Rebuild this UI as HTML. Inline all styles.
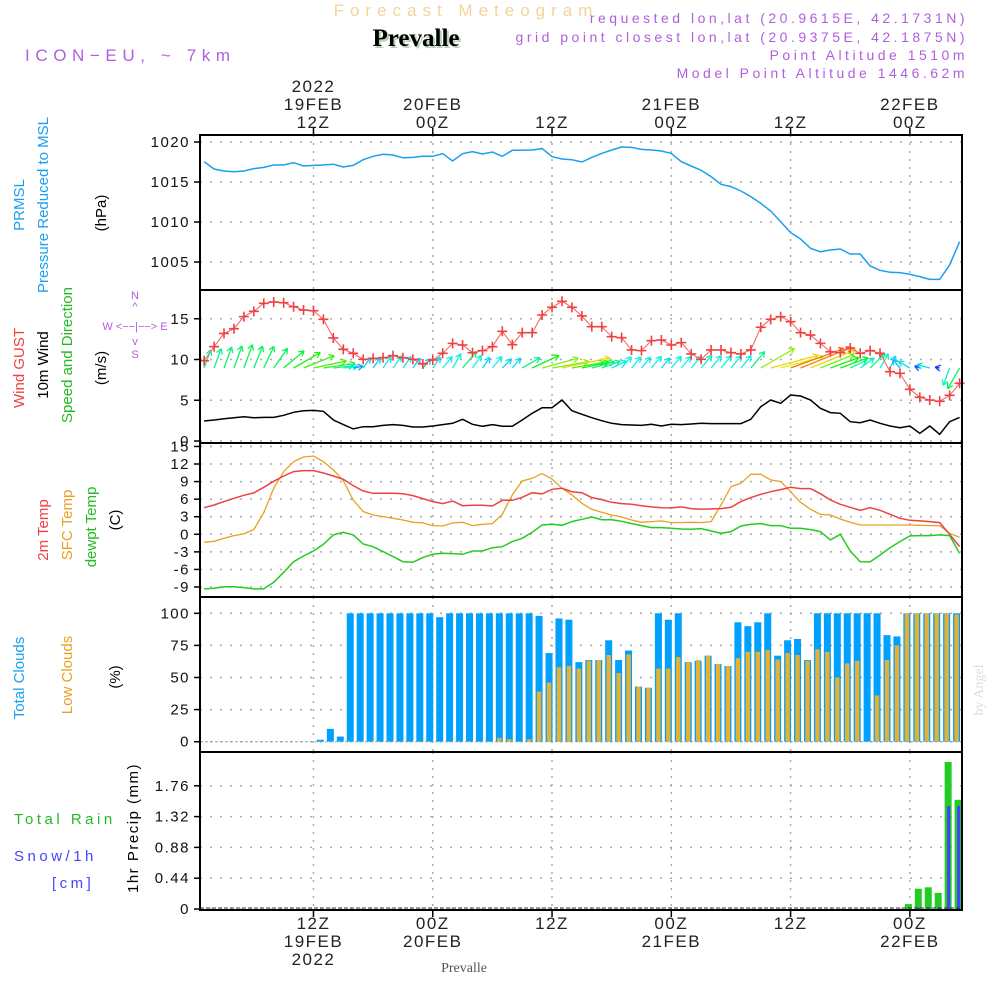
<!DOCTYPE html>
<html><head><meta charset="utf-8"><title>Forecast Meteogram Prevalle</title>
<style>
html,body{margin:0;padding:0;background:#fff;}
svg{display:block;font-family:"Liberation Sans",sans-serif;}
.t{letter-spacing:1.5px;}
</style></head>
<body>
<svg id="chart" width="1000" height="1000" viewBox="0 0 1000 1000" xmlns="http://www.w3.org/2000/svg">
<rect width="1000" height="1000" fill="#fff"/>
<text x="466" y="16" text-anchor="middle" font-size="17" fill="#f3d49c" style="letter-spacing:6px">Forecast Meteogram</text>
<text x="418" y="48" text-anchor="middle" font-size="25" font-weight="bold" font-family="Liberation Serif,serif" fill="#b8d0b8">Prevalle</text>
<text x="416" y="46" text-anchor="middle" font-size="25" font-weight="bold" font-family="Liberation Serif,serif" fill="#000">Prevalle</text>
<text x="25" y="61" font-size="17" fill="#b05ee0" style="letter-spacing:5.6px">ICON−EU, ~ 7km</text>
<g font-size="14" fill="#b05ee0" text-anchor="end" style="letter-spacing:3.5px">
<text x="968" y="23">requested lon,lat (20.9615E, 42.1731N)</text>
<text x="968" y="42">grid point closest lon,lat (20.9375E, 42.1875N)</text>
<text x="968" y="60">Point Altitude 1510m</text>
<text x="968" y="78">Model Point Altitude 1446.62m</text>
</g>
<g id="grid"></g>
<g id="series"></g>
<g id="frames"></g>
<g id="labels"></g>
<g font-size="15">
<text transform="translate(24,205) rotate(-90)" text-anchor="middle" fill="#1a9ff0">PRMSL</text>
<text transform="translate(48,205) rotate(-90)" text-anchor="middle" fill="#1a9ff0">Pressure Reduced to MSL</text>
<text transform="translate(106,213) rotate(-90)" text-anchor="middle" fill="#000">(hPa)</text>
</g>
<g font-size="15">
<text transform="translate(24,368) rotate(-90)" text-anchor="middle" fill="#f04040">Wind GUST</text>
<text transform="translate(48,365) rotate(-90)" text-anchor="middle" fill="#000">10m Wind</text>
<text transform="translate(72,355) rotate(-90)" text-anchor="middle" fill="#22bb22">Speed and Direction</text>
<text transform="translate(106,368) rotate(-90)" text-anchor="middle" fill="#000">(m/s)</text>
</g>
<g font-size="11" fill="#b05ee0">
<text x="135" y="299" text-anchor="middle">N</text>
<text x="135" y="310" text-anchor="middle">^</text>
<text x="135" y="330" text-anchor="middle">W &lt;−−|−−&gt; E</text>
<text x="135" y="345" text-anchor="middle">v</text>
<text x="135" y="358" text-anchor="middle">S</text>
</g>
<g font-size="15">
<text transform="translate(48,530) rotate(-90)" text-anchor="middle" fill="#f04040">2m Temp</text>
<text transform="translate(72,525) rotate(-90)" text-anchor="middle" fill="#eaa020">SFC Temp</text>
<text transform="translate(96,527) rotate(-90)" text-anchor="middle" fill="#22bb22">dewpt Temp</text>
<text transform="translate(120,520) rotate(-90)" text-anchor="middle" fill="#000">(C)</text>
</g>
<g font-size="15">
<text transform="translate(24,678) rotate(-90)" text-anchor="middle" fill="#1a9ff0">Total Clouds</text>
<text transform="translate(72,675) rotate(-90)" text-anchor="middle" fill="#eaa020">Low Clouds</text>
<text transform="translate(120,677) rotate(-90)" text-anchor="middle" fill="#000">(%)</text>
</g>
<g font-size="15" style="letter-spacing:3.5px">
<text x="14" y="824" fill="#22bb22">Total  Rain</text>
<text x="14" y="861" fill="#4444ff">Snow/1h</text>
<text x="52" y="888" fill="#4444ff">[cm]</text>
<text transform="translate(138,828) rotate(-90)" text-anchor="middle" fill="#000" style="letter-spacing:1.5px">1hr Precip (mm)</text>
</g>
<text x="464" y="972" text-anchor="middle" font-size="14" font-family="Liberation Serif,serif" fill="#555">Prevalle</text>
<text transform="translate(983,690) rotate(-90)" text-anchor="middle" font-size="14" font-family="Liberation Serif,serif" fill="#ddd">by Angel</text>
</svg>
<script>
const hours = [1,2,3,4,5,6,7,8,9,10,11,12,13,14,15,16,17,18,19,20,21,22,23,24,25,26,27,28,29,30,31,32,33,34,35,36,37,38,39,40,41,42,43,44,45,46,47,48,49,50,51,52,53,54,55,56,57,58,59,60,61,62,63,64,65,66,67,68,69,70,71,72,73,74,75,76,77];
const pressure = [1017.54,1016.63,1016.38,1016.29,1016.38,1016.67,1016.83,1017.13,1017.13,1017.42,1017.0,1017.08,1017.13,1017.21,1016.88,1017.08,1017.79,1018.21,1018.46,1018.38,1018.04,1018.08,1018.21,1018.21,1018.54,1017.63,1018.54,1018.79,1018.5,1018.75,1018.21,1018.96,1018.96,1019.0,1019.17,1018.17,1017.88,1017.79,1017.5,1018.08,1018.58,1019.0,1019.38,1019.33,1019.08,1019.0,1018.88,1018.58,1017.54,1017.0,1016.46,1015.67,1014.71,1014.42,1013.88,1013.17,1012.33,1011.38,1010.04,1008.67,1007.88,1006.71,1006.29,1006.5,1006.63,1006.0,1006.0,1004.5,1003.96,1003.71,1003.67,1003.46,1003.17,1002.83,1002.83,1004.63,1007.54];
const gust = [9.85,11.57,13.2,13.78,15.26,15.91,16.89,17.06,16.97,16.48,16.07,15.99,14.93,12.64,11.25,10.76,10.02,10.14,10.22,10.47,10.22,10.02,9.45,9.94,10.76,11.98,11.78,10.84,11.09,11.57,13.46,11.82,13.29,13.29,15.46,16.4,17.14,16.4,15.34,14.03,14.03,12.8,12.68,11.17,11.09,12.31,12.39,11.78,12.07,10.68,10.02,11.17,11.17,10.84,10.68,11.17,13.95,14.93,15.26,14.64,13.29,13.0,11.98,10.96,10.84,11.41,10.76,11.09,10.76,8.51,8.3,6.34,5.36,5.03,4.87,5.6,7.08];
const wind10 = [2.45,2.58,2.74,2.86,2.98,2.86,2.9,2.9,3.15,3.52,3.72,3.76,3.64,2.58,2.01,1.48,1.76,1.76,1.92,2.01,1.92,1.72,1.72,1.84,2.01,2.17,2.66,2.05,1.8,2.01,1.8,1.8,2.58,3.4,4.09,4.09,5.03,3.72,3.27,2.86,2.49,2.17,2.01,1.96,1.92,2.05,1.84,2.05,2.01,2.09,2.17,2.13,2.13,2.13,2.13,2.66,4.21,5.03,4.62,5.64,5.52,5.03,4.01,3.48,3.4,2.37,2.25,2.58,2.17,1.84,1.63,1.84,0.94,1.84,0.82,2.37,2.9];
const windDir = [20,20,20,20,20,22,25,35,50,60,68,78,82,84,84,80,35,35,35,35,35,35,40,35,40,30,40,35,35,40,45,40,60,65,75,80,78,80,78,75,70,65,40,40,40,40,40,40,40,40,40,40,40,40,40,40,60,75,75,70,68,68,68,70,70,65,55,45,30,25,320,300,290,285,280,200,210];
const temp2m = [4.55,5.01,5.58,6.15,6.66,7.06,8.02,9.05,9.96,10.7,10.87,10.87,10.47,9.96,9.39,8.31,7.4,7.0,7.0,7.0,6.94,6.6,6.09,5.58,5.24,5.69,4.89,4.95,4.95,4.84,5.81,5.81,6.32,7.11,6.89,7.68,7.85,7.28,7.11,6.26,5.92,5.46,5.24,5.12,4.89,4.67,4.55,4.5,4.67,4.38,4.27,4.33,4.38,4.61,5.58,6.26,6.83,7.28,7.63,8.02,7.8,7.8,6.94,5.86,5.12,4.61,4.1,4.55,4.1,3.42,2.73,2.39,2.28,2.16,1.99,0,-2.1];
const tempSfc = [-1.37,-1.19,-0.68,-0.23,0.06,0.8,3.7,7.85,10.7,12.4,13.2,13.37,12.4,11.0,9.16,5.86,3.87,3.3,3.02,2.73,2.45,2.05,1.94,1.48,1.42,1.94,2.05,1.48,1.71,1.82,3.41,6.72,9.1,9.56,10.36,9.45,7.85,6.72,5.29,4.27,3.76,3.3,2.96,2.45,2.05,2.16,2.28,1.99,1.99,2.05,1.99,2.16,5.01,8.14,8.71,10.24,10.24,9.28,9.0,7.28,5.46,4.27,3.41,3.3,2.62,2.05,1.59,1.59,1.59,1.59,1.59,1.59,1.54,1.48,1.48,0.17,-0.51];
const dewpt = [-9.33,-9.22,-8.94,-8.94,-9.1,-9.33,-9.33,-8.2,-6.49,-4.67,-3.7,-2.85,-1.71,-0.11,0.34,-0.11,-1.65,-2.11,-2.96,-3.81,-4.67,-4.78,-3.98,-3.41,-3.24,-3.3,-3.41,-2.85,-2.85,-2.28,-2.11,-1.25,-0.68,0.34,1.59,1.71,1.54,2.16,2.56,2.96,2.5,2.5,2.22,1.82,1.48,1.14,1.14,1.02,0.91,0.85,0.97,0.57,0.17,0.46,1.42,1.71,1.82,1.48,1.48,1.02,1.02,0.8,0.46,-0.97,0,-2.85,-4.67,-4.72,-3.53,-2.28,-1.25,-0.28,-0.23,-0.23,-0.11,-0.23,-3.24];
const cloudHours = [2,3,4,5,6,7,8,9,10,11,12,13,14,15,16,17,18,19,20,21,22,23,24,25,26,27,28,29,30,31,32,33,34,35,36,37,38,39,40,41,42,43,44,45,46,47,48,49,50,51,52,53,54,55,56,57,58,59,60,61,62,63,64,65,66,67,68,69,70,71,72,73,74,75,76,77];
const totalClouds = [0,0,0,0,0,0,0,0,0,0,0,1.5,10,4,100,100,100,100,100,100,100,100,100,97,100,100,100,100,100,100,100,100,100,98,69,96,95,62,63.6,63.6,79,63.6,71,43,42,100,95,100,62,63,67,60.5,59,93,90,93,100,67,79,80,63.6,100,100,100,100,100,100,100,83,82,100,100,100,100,100,100];
const lowClouds = [0,0,0,0,0,0,0,0,0,0,0,0,0,0,0,0,0,0,0,0,0,0,0,0,0,0,0,0,0,3,2,0,2,39,46,58,59,57,63,63.6,67.5,53.5,68,43,42,57,57,66,62,63.6,67,60.5,59,65,70,70,71.4,64,69,67.5,63,72,70,50,61,63,0,36,63.6,75,100,100,100,100,100,99];
const precipHours = [72,73,74,75,76,77];
const rain = [0.07,0.29,0.31,0.23,2.1,1.56];
const snow = [0,0.02,0.02,0.02,1.47,1.47];
const pTicks = [1020,1015,1010,1005];
const wTicks = [15,10,5,0];
const tTicks = [15,12,9,6,3,0,-3,-6,-9];
const cTicks = [100,75,50,25,0];
const rTicks = [1.76,1.32,0.88,0.44,0];
const timeTickHours = [12,24,36,48,60,72];
const timeTop = [["2022","19FEB","12Z"],["","20FEB","00Z"],["","","12Z"],["","21FEB","00Z"],["","","12Z"],["","22FEB","00Z"]];
const timeBottom = [["12Z","19FEB","2022"],["00Z","20FEB",""],["12Z","",""],["00Z","21FEB",""],["12Z","",""],["00Z","22FEB",""]];

const NS="http://www.w3.org/2000/svg";
const X0=200,X1=962;
const panels=[[135,290],[290,443],[443,597],[597,752],[752,910]];
const xH=h=>194.2+9.94*h;
const pY=v=>142+(1020-v)*8;
const wY=v=>441-v*8.15;
const tY=v=>534.3-v*5.857;
const cY=v=>741.7-v*1.284;
const rY=v=>909-v*70;
function mk(tag,attrs,parent){const e=document.createElementNS(NS,tag);for(const k in attrs)e.setAttribute(k,attrs[k]);parent.appendChild(e);return e;}
const grid=document.getElementById('grid'),ser=document.getElementById('series'),frames=document.getElementById('frames'),labels=document.getElementById('labels');

const defs=mk('defs',{},document.getElementById('chart'));
panels.forEach((p,i)=>{const c=mk('clipPath',{id:'clip'+i},defs);mk('rect',{x:X0,y:p[0]+1,width:X1-X0,height:p[1]-p[0]-2},c);});

panels.forEach(p=>{timeTickHours.forEach(h=>{const l=mk('line',{x1:xH(h),x2:xH(h),y1:p[0],y2:p[1],stroke:'#aaa','stroke-width':1.5,'stroke-dasharray':'2,6'},grid);

});});
function hTicks(ticks,fy,fmt,name){ticks.forEach(v=>{const y=fy(v);
 const l=mk('line',{x1:X0,x2:X1,y1:y,y2:y,stroke:'#aaa','stroke-width':1.5,'stroke-dasharray':'2,8'},grid);
 
 
 mk('line',{x1:X0-6,x2:X0,y1:y,y2:y,stroke:'#000','stroke-width':1.5},frames);
 const t=mk('text',{x:X0-10,y:y+5,'text-anchor':'end','font-size':15,fill:'#111',class:'t'},labels);
 t.textContent=fmt(v);
 
 });}
hTicks(pTicks,pY,v=>v,'pressure');
hTicks(wTicks,wY,v=>v,'wind');
hTicks(tTicks,tY,v=>v,'temperature');
hTicks(cTicks,cY,v=>v,'cloud');
hTicks(rTicks,rY,v=>v===0?'0':v.toFixed(2),'precip');

panels.forEach((p,i)=>{const r=mk('rect',{x:X0,y:p[0],width:X1-X0,height:p[1]-p[0],fill:'none',stroke:'#000','stroke-width':2},frames);

});
timeTickHours.forEach((h,i)=>{const x=xH(h);
 mk('line',{x1:x,x2:x,y1:128,y2:135,stroke:'#000','stroke-width':1.5},frames);
 mk('line',{x1:x,x2:x,y1:910,y2:917,stroke:'#000','stroke-width':1.5},frames);
 timeTop[i].forEach((s,j)=>{if(!s)return;const t=mk('text',{x:x,y:92+j*18,'text-anchor':'middle','font-size':17,fill:'#222',class:'t'},labels);t.textContent=s;
  
  });
 timeBottom[i].forEach((s,j)=>{if(!s)return;const t=mk('text',{x:x,y:929+j*18,'text-anchor':'middle','font-size':17,fill:'#222',class:'t'},labels);t.textContent=s;
  
  });
});

function line(vals,fy,color,clip,name,w){const d=vals.map((v,i)=>(i?'L':'M')+xH(hours[i]).toFixed(1)+','+fy(v).toFixed(1)).join('');
 const p=mk('path',{d:d,fill:'none',stroke:color,'stroke-width':w||1.5,'clip-path':'url(#clip'+clip+')'},ser);
 
 return p;}

line(pressure,pY,'#1a9ff0',0,'pressure-line');
const wg=mk('g',{'clip-path':'url(#clip1)'},ser);
hours.forEach((h,i)=>{const s=wind10[i],a=windDir[i]*Math.PI/180;const L=6*Math.pow(s,1.3);
 const x0=xH(h),y0=368,x1=x0+L*Math.sin(a),y1=y0-L*Math.cos(a);
 let hue=200-(s-1.5)*42;if(hue<0)hue=330;const col='hsl('+hue+',90%,50%)';
 const g=mk('g',{stroke:col,'stroke-width':1.3,fill:'none'},wg);
 
 
 mk('line',{x1:x0,y1:y0,x2:x1,y2:y1},g);
 const hl=6;[150,-150].forEach(d=>{const b=a+d*Math.PI/180;mk('line',{x1:x1,y1:y1,x2:x1+hl*Math.sin(b),y2:y1-hl*Math.cos(b)},g);});
});
line(wind10,wY,'#000',1,'wind-speed-line');
line(gust,wY,'#f06060',1,'gust-line',1);
hours.forEach((h,i)=>{const x=xH(h),y=wY(gust[i]);const g=mk('path',{d:'M'+(x-5)+','+y+'h10M'+x+','+(y-5)+'v10',stroke:'#f04040','stroke-width':1.6},ser);
 
 });
line(tempSfc,tY,'#eaa020',2,'sfc-temp-line',1.3);
line(temp2m,tY,'#f04040',2,'2m-temp-line',1.5);
line(dewpt,tY,'#22cc22',2,'dewpoint-line',1.5);
cloudHours.forEach((h,i)=>{const cx=xH(h)-3;
 const b=mk('rect',{x:cx-3.5,y:cY(totalClouds[i]),width:7,height:cY(0)-cY(totalClouds[i]),fill:'#00a0ff'},ser);
 
 
 const l=mk('rect',{x:cx-2.2,y:cY(lowClouds[i]),width:4.4,height:cY(0)-cY(lowClouds[i]),fill:'#e8b030'},ser);
 
 });
mk('line',{x1:X0,x2:X1,y1:cY(0),y2:cY(0),stroke:'#8ab','stroke-width':1,'stroke-dasharray':'3,2'},ser);
precipHours.forEach((h,i)=>{const cx=xH(h)-1.5;
 const b=mk('rect',{x:cx-3.5,y:rY(rain[i]),width:7,height:rY(0)-rY(rain[i]),fill:'#22cc22','clip-path':'url(#clip4)'},ser);
 
 
 const s=mk('rect',{x:cx-1,y:rY(snow[i]),width:3,height:rY(0)-rY(snow[i]),fill:'#4040ff','clip-path':'url(#clip4)'},ser);
 
 });
mk('line',{x1:X0,x2:X1,y1:rY(0)-1,y2:rY(0)-1,stroke:'#333','stroke-width':1,'stroke-dasharray':'4,2'},ser);
</script>
</body></html>
